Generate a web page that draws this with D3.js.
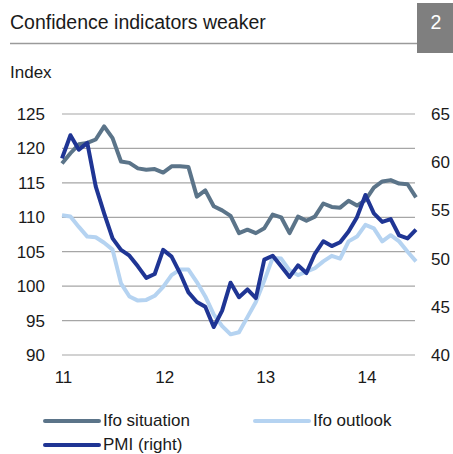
<!DOCTYPE html>
<html>
<head>
<meta charset="utf-8">
<script src="https://cdn.jsdelivr.net/npm/d3@7"></script>
<style>
  body { margin: 0; background: #fff; }
  text { font-family: "Liberation Sans", Arial, sans-serif; fill: #1a1a1a; }
</style>
</head>
<body>
<div id="chart"></div>
<script>
// monthly, Jan 2011 .. Jul 2014
var yearLabels = ['11', '12', '13', '14']
var ifoSituation = [117.8, 119.3, 120.6, 120.8, 121.3, 123.2, 121.5, 118.1, 117.9, 117.1,
  116.9, 117.0, 116.5, 117.4, 117.4, 117.3, 113.0, 113.9, 111.6, 111.0,
  110.2, 107.7, 108.2, 107.7, 108.4, 110.4, 110.0, 107.7, 110.1, 109.5,
  110.1, 112.0, 111.5, 111.4, 112.4, 111.7, 112.5, 114.3, 115.2, 115.4,
  114.9, 114.8, 112.9]
var ifoOutlook = [110.3, 110.1, 108.6, 107.2, 107.1, 106.3, 105.3, 100.4, 98.5, 97.9,
  98.0, 98.6, 99.9, 101.6, 102.4, 102.4, 100.6, 98.5, 95.9, 94.2,
  93.0, 93.3, 95.5, 97.7, 100.8, 104.1, 104.0, 102.3, 101.6, 102.1,
  102.6, 103.6, 104.4, 104.0, 106.5, 107.2, 108.9, 108.4, 106.5, 107.4,
  106.5, 105.0, 103.6]
var pmi = [60.4, 62.8, 61.3, 62.0, 57.5, 54.7, 52.1, 50.9, 50.3, 49.2,
  48.0, 48.4, 50.9, 50.2, 48.5, 46.5, 45.5, 45.0, 42.9, 44.6,
  47.5, 46.0, 46.8, 45.9, 49.9, 50.3, 49.2, 48.1, 49.3, 48.5,
  50.5, 51.8, 51.3, 51.7, 52.8, 54.3, 56.6, 54.7, 53.8, 54.1,
  52.4, 52.1, 53.0]
var leftTicks = [90, 95, 100, 105, 110, 115, 120, 125]
var rightTicks = [40, 45, 50, 55, 60, 65]

var width = 453, height = 454
var plot = { left: 62, right: 416, top: 114, bottom: 355 }
var colors = { situation: '#5b7489', outlook: '#b5d3f1', pmi: '#1f3594', grid: '#a6a6a6' }

var svg = d3.select('#chart').append('svg').attr('width', width).attr('height', height)

var x = d3.scaleLinear().domain([0, pmi.length - 1]).range([plot.left, plot.right])
var yLeft = d3.scaleLinear().domain([90, 125]).range([plot.bottom, plot.top])
var yRight = d3.scaleLinear().domain([40, 65]).range([plot.bottom, plot.top])

// header
svg.append('text').attr('x', 10).attr('y', 29).attr('font-size', 19.5).text('Confidence indicators weaker')
svg.append('line').attr('x1', 10).attr('x2', 417).attr('y1', 43.5).attr('y2', 43.5)
  .attr('stroke', '#9a9a9a').attr('stroke-width', 1.5)
svg.append('rect').attr('x', 417).attr('y', 3).attr('width', 36).attr('height', 50).attr('fill', '#7f7f7f')
svg.append('text').attr('x', 436).attr('y', 29).attr('font-size', 19.5).attr('text-anchor', 'middle')
  .style('fill', '#fff').text('2')
svg.append('text').attr('x', 10).attr('y', 78).attr('font-size', 17).text('Index')

// grid
svg.append('g').selectAll('line').data(leftTicks).enter().append('line')
  .attr('x1', plot.left).attr('x2', plot.right - 1)
  .attr('y1', d => yLeft(d)).attr('y2', d => yLeft(d))
  .attr('stroke', colors.grid).attr('stroke-width', 1.2)

// axes, only labels
var axisLeft = d3.axisLeft(yLeft).tickValues(leftTicks).tickSize(0).tickPadding(17)
svg.append('g').attr('transform', 'translate(' + plot.left + ',0)').call(axisLeft)
var axisRight = d3.axisRight(yRight).tickValues(rightTicks).tickSize(0).tickPadding(15)
svg.append('g').attr('transform', 'translate(' + plot.right + ',0)').call(axisRight)
var axisBottom = d3.axisBottom(x).tickValues([0, 12, 24, 36]).tickFormat((d, i) => yearLabels[i])
  .tickSize(0).tickPadding(16)
svg.append('g').attr('transform', 'translate(1,' + plot.bottom + ')').call(axisBottom)
svg.selectAll('.domain').remove()
svg.selectAll('.tick text').attr('font-size', 17).style('font-family', '"Liberation Sans", Arial, sans-serif')
  .style('fill', '#1a1a1a')

// lines
function drawLine(values, scale, color) {
  var line = d3.line().x((d, i) => x(i)).y(d => scale(d))
  svg.append('path').datum(values).attr('d', line)
    .attr('fill', 'none').attr('stroke', color).attr('stroke-width', 4)
    .attr('stroke-linejoin', 'round')
}
drawLine(ifoOutlook, yLeft, colors.outlook)
drawLine(ifoSituation, yLeft, colors.situation)
drawLine(pmi, yRight, colors.pmi)

// legend
var legendItems = [
  { name: 'Ifo situation', color: colors.situation, x: 45, y: 421 },
  { name: 'Ifo outlook', color: colors.outlook, x: 255, y: 421 },
  { name: 'PMI (right)', color: colors.pmi, x: 45, y: 445 }
]
var legend = svg.append('g').selectAll('g').data(legendItems).enter().append('g')
  .attr('transform', d => 'translate(' + d.x + ',' + d.y + ')')
legend.append('line').attr('x1', 0).attr('x2', 54).attr('y1', 0).attr('y2', 0)
  .attr('stroke', d => d.color).attr('stroke-width', 4).attr('stroke-linecap', 'round')
legend.append('text').attr('x', 58).attr('y', 5).attr('font-size', 17).text(d => d.name)
</script>
</body>
</html>
